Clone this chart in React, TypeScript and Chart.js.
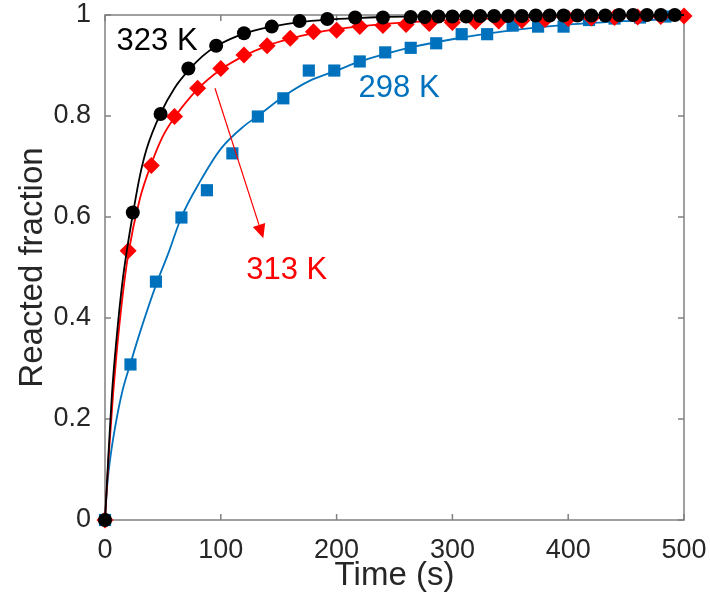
import React, { useEffect, useRef } from 'react';
import { Chart, registerables } from 'chart.js';

Chart.register(...registerables);

const FONT = '"Liberation Sans", Arial, Helvetica, sans-serif';

// Tick values
const X_TICKS = [0, 100, 200, 300, 400, 500];
const Y_TICKS = [0, 0.2, 0.4, 0.6, 0.8, 1];

// 323 K measured points
const T323 = [0, 24, 48, 72, 96, 120, 144, 168, 192, 216, 240, 264, 276, 288, 300, 312, 324, 336, 348, 360, 372, 384, 396, 408, 420, 432, 444, 456, 468, 480, 492];
const Y323 = [0, 0.609, 0.804, 0.894, 0.939, 0.964, 0.977, 0.988, 0.992, 0.995, 0.995, 0.996, 0.996, 0.997, 0.997, 0.997, 0.998, 0.998, 0.998, 0.998, 0.999, 0.999, 0.999, 0.999, 0.999, 0.999, 1.0, 1.0, 1.0, 1.0, 1.0];

// 313 K measured points
const T313 = [0, 20, 40, 60, 80, 100, 120, 140, 160, 180, 200, 220, 240, 260, 280, 300, 320, 340, 360, 380, 400, 420, 440, 460, 480, 500];
const Y313 = [0, 0.533, 0.702, 0.799, 0.855, 0.894, 0.921, 0.939, 0.954, 0.967, 0.970, 0.977, 0.979, 0.981, 0.983, 0.985, 0.987, 0.988, 0.989, 0.991, 0.993, 0.994, 0.995, 0.996, 0.997, 0.998];

// 298 K measured points
const T298 = [0, 22, 44, 66, 88, 110, 132, 154, 176, 198, 220, 242, 264, 286, 308, 330, 352, 374, 396, 418, 440, 462, 484];
const Y298 = [0, 0.308, 0.472, 0.599, 0.653, 0.726, 0.799, 0.835, 0.890, 0.890, 0.908, 0.926, 0.935, 0.944, 0.962, 0.962, 0.979, 0.977, 0.977, 0.990, 0.993, 0.995, 0.997];

// Fitted curves
const FT323 = [0, 3, 6, 10, 15, 20, 24, 30, 36, 48, 60, 72, 84, 96, 120, 144, 168, 192, 216, 240, 300, 350, 400, 450, 500];
const FY323 = [0, 0.13, 0.25, 0.36, 0.47, 0.55, 0.605, 0.68, 0.735, 0.805, 0.855, 0.89, 0.918, 0.938, 0.963, 0.977, 0.986, 0.991, 0.994, 0.996, 0.998, 0.999, 0.9995, 1.0, 1.0];

const FT313 = [0, 3, 7, 10, 15, 20, 30, 40, 50, 60, 80, 100, 120, 140, 160, 180, 200, 240, 280, 320, 360, 400, 450, 500];
const FY313 = [0, 0.12, 0.25, 0.33, 0.44, 0.525, 0.635, 0.705, 0.76, 0.797, 0.853, 0.892, 0.919, 0.939, 0.953, 0.964, 0.972, 0.982, 0.988, 0.992, 0.995, 0.997, 0.998, 0.999];

const FT298 = [0, 2, 5, 10, 15, 22, 30, 44, 55, 66, 82, 100, 120, 132, 155, 177, 200, 220, 242, 266, 300, 330, 360, 400, 450, 500];
const FY298 = [0, 0.07, 0.13, 0.2, 0.255, 0.31, 0.37, 0.465, 0.53, 0.6, 0.67, 0.735, 0.78, 0.8, 0.84, 0.87, 0.89, 0.908, 0.923, 0.937, 0.952, 0.963, 0.972, 0.981, 0.988, 0.993];

// Annotation texts
const LABEL_TEXTS = ['323 K', '313 K', '298 K'];
const LABEL_X = [10, 122, 219];
const LABEL_Y = [0.931, 0.477, 0.838];
const LABEL_COLORS = ['#000000', '#FF0000', '#0072BD'];

// Arrow (data coordinates)
const ARROW_FROM = [95, 0.855];
const ARROW_TO = [136.7, 0.558];

const BLACK = '#000000';
const RED = '#FF0000';
const BLUE = '#0072BD';
const AXIS_COLOR = '#808080';
const TEXT_COLOR = '#262626';

const pts = (xs: number[], ys: number[]) => xs.map((x, i) => ({ x, y: ys[i] }));

const boxPlugin = {
  id: 'matlabBox',
  beforeDatasetsDraw(chart: any) {
    const { ctx, chartArea: a, scales } = chart;
    const x = scales.x;
    const y = scales.y;
    const TL = 6;
    ctx.save();
    ctx.strokeStyle = AXIS_COLOR;
    ctx.lineWidth = 1.5;
    ctx.strokeRect(a.left, a.top, a.right - a.left, a.bottom - a.top);
    ctx.beginPath();
    for (const v of X_TICKS) {
      const px = x.getPixelForValue(v);
      ctx.moveTo(px, a.bottom);
      ctx.lineTo(px, a.bottom - TL);
      ctx.moveTo(px, a.top);
      ctx.lineTo(px, a.top + TL);
    }
    for (const v of Y_TICKS) {
      const py = y.getPixelForValue(v);
      ctx.moveTo(a.left, py);
      ctx.lineTo(a.left + TL, py);
      ctx.moveTo(a.right, py);
      ctx.lineTo(a.right - TL, py);
    }
    ctx.stroke();
    ctx.restore();
  },
  afterDatasetsDraw(chart: any) {
    const { ctx, scales } = chart;
    const x = scales.x;
    const y = scales.y;
    ctx.save();
    // arrow
    const x0 = x.getPixelForValue(ARROW_FROM[0]);
    const y0 = y.getPixelForValue(ARROW_FROM[1]);
    const x1 = x.getPixelForValue(ARROW_TO[0]);
    const y1 = y.getPixelForValue(ARROW_TO[1]);
    const ang = Math.atan2(y1 - y0, x1 - x0);
    const headLen = 14;
    const headHalf = 6.5;
    const bx = x1 - headLen * Math.cos(ang);
    const by = y1 - headLen * Math.sin(ang);
    ctx.strokeStyle = RED;
    ctx.fillStyle = RED;
    ctx.lineWidth = 1.2;
    ctx.beginPath();
    ctx.moveTo(x0, y0);
    ctx.lineTo(bx, by);
    ctx.stroke();
    ctx.beginPath();
    ctx.moveTo(x1, y1);
    ctx.lineTo(bx + headHalf * Math.sin(ang), by - headHalf * Math.cos(ang));
    ctx.lineTo(bx - headHalf * Math.sin(ang), by + headHalf * Math.cos(ang));
    ctx.closePath();
    ctx.fill();
    // labels
    ctx.font = `31px ${FONT}`;
    ctx.textAlign = 'left';
    ctx.textBaseline = 'alphabetic';
    LABEL_TEXTS.forEach((t, i) => {
      ctx.fillStyle = LABEL_COLORS[i];
      ctx.fillText(t, x.getPixelForValue(LABEL_X[i]), y.getPixelForValue(LABEL_Y[i]));
    });
    ctx.restore();
  },
};

export default function App() {
  const ref = useRef<HTMLCanvasElement | null>(null);
  useEffect(() => {
    if (!ref.current) return;
    const fitDs = (label: string, xs: number[], ys: number[], color: string) => ({
      label,
      data: pts(xs, ys),
      showLine: true,
      borderColor: color,
      backgroundColor: color,
      borderWidth: 1.8,
      pointRadius: 0,
      pointHoverRadius: 0,
      cubicInterpolationMode: 'monotone' as const,
      clip: false as any,
    });
    const ptDs = (label: string, xs: number[], ys: number[], color: string, style: string, r: number) => ({
      label,
      data: pts(xs, ys),
      showLine: false,
      borderColor: color,
      backgroundColor: color,
      pointStyle: style,
      pointRadius: r,
      pointBorderWidth: 0,
      pointHoverRadius: r,
      clip: false as any,
    });
    const chart = new Chart(ref.current, {
      type: 'scatter',
      data: {
        datasets: [
          ptDs('323 K', T323, Y323, BLACK, 'circle', 7),
          fitDs('323 K fit', FT323, FY323, BLACK),
          ptDs('313 K', T313, Y313, RED, 'rectRot', 8.5),
          fitDs('313 K fit', FT313, FY313, RED),
          ptDs('298 K', T298, Y298, BLUE, 'rect', 8.6),
          fitDs('298 K fit', FT298, FY298, BLUE),
        ] as any,
      },
      options: {
        animation: false,
        responsive: true,
        maintainAspectRatio: false,
        layout: { padding: { left: 0, top: 15, right: 26, bottom: 0 } },
        plugins: { legend: { display: false }, tooltip: { enabled: false } },
        scales: {
          x: {
            type: 'linear',
            min: 0,
            max: 500,
            afterBuildTicks: (s: any) => { s.ticks = X_TICKS.map((v) => ({ value: v })); },
            afterFit: (s: any) => { s.height = 92; s.paddingLeft = 0; s.paddingRight = 0; },
            grid: { display: false, drawTicks: false },
            border: { display: false },
            ticks: { color: TEXT_COLOR, font: { family: FONT, size: 27 }, padding: 14, maxRotation: 0 },
            title: { display: true, text: 'Time (s)', color: TEXT_COLOR, font: { family: FONT, size: 33 }, padding: { top: 0, bottom: 16 } },
          },
          y: {
            type: 'linear',
            min: 0,
            max: 1,
            afterBuildTicks: (s: any) => { s.ticks = Y_TICKS.map((v) => ({ value: v })); },
            afterFit: (s: any) => { s.width = 105; s.paddingTop = 0; s.paddingBottom = 0; },
            grid: { display: false, drawTicks: false },
            border: { display: false },
            ticks: { color: TEXT_COLOR, font: { family: FONT, size: 27 }, padding: 14, callback: (v: any) => String(Math.round(Number(v) * 10) / 10) },
            title: { display: true, text: 'Reacted fraction', color: TEXT_COLOR, font: { family: FONT, size: 33 }, padding: { top: 13, bottom: 0 } },
          },
        },
      },
      plugins: [boxPlugin],
    } as any);
    return () => chart.destroy();
  }, []);
  return (
    <div style={{ position: 'fixed', left: 0, top: 0, width: 710, height: 612, background: '#ffffff' }}>
      <canvas ref={ref} />
    </div>
  );
}
